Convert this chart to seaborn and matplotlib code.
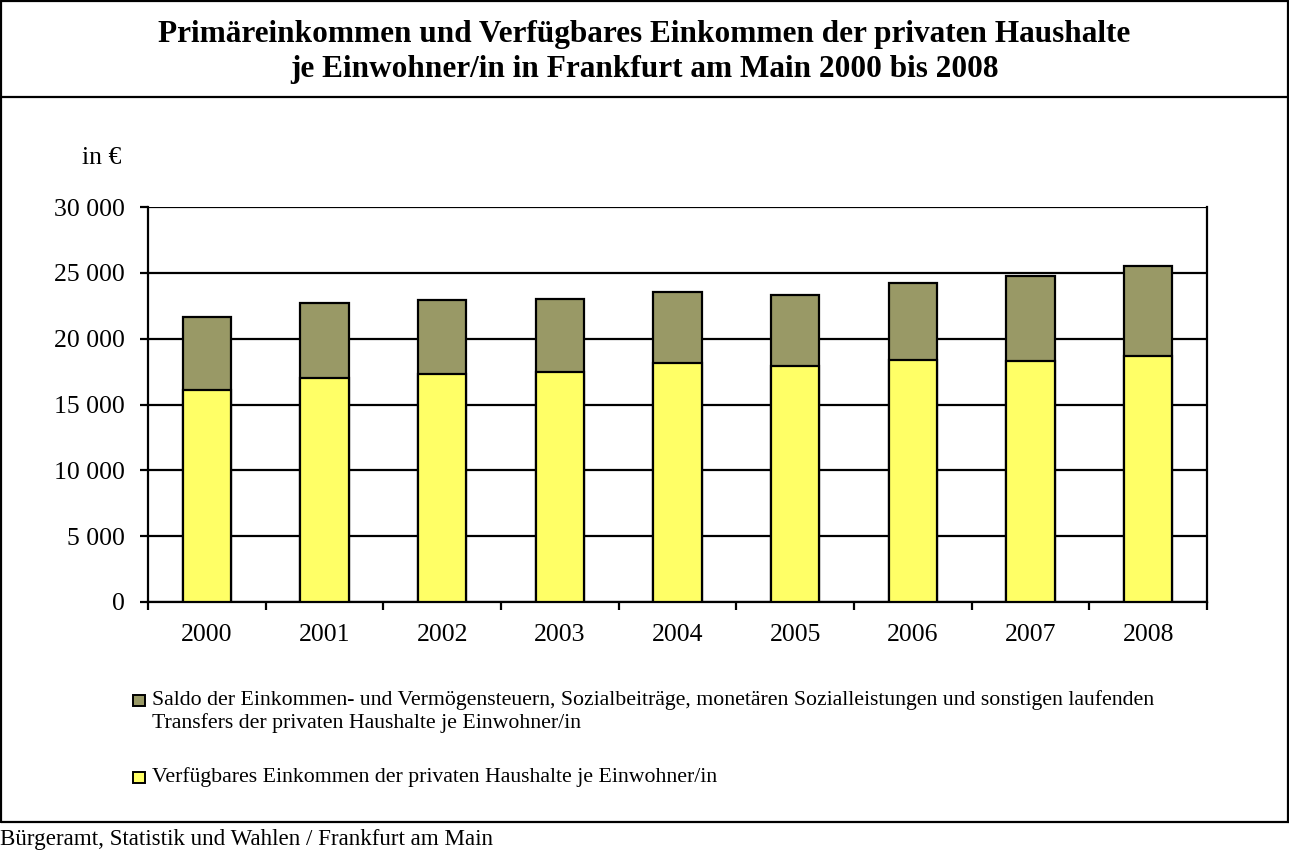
import numpy as np
import pandas as pd
import seaborn as sns
import matplotlib.pyplot as plt
from matplotlib.patches import Rectangle
from matplotlib.lines import Line2D
from matplotlib.ticker import FuncFormatter

# Data
years = ["2000", "2001", "2002", "2003", "2004", "2005", "2006", "2007", "2008"]
verfuegbar = [16130, 17010, 17290, 17470, 18180, 17950, 18350, 18290, 18660]
primaer = [21640, 22700, 22960, 23020, 23510, 23340, 24220, 24730, 25510]

label_saldo = ["Saldo der Einkommen- und Vermögensteuern, Sozialbeiträge, monetären Sozialleistungen und sonstigen laufenden",
               "Transfers der privaten Haushalte je Einwohner/in"]
label_verf = ["Verfügbares Einkommen der privaten Haushalte je Einwohner/in"]
title = ("Primäreinkommen und Verfügbares Einkommen der privaten Haushalte\n"
         "je Einwohner/in in Frankfurt am Main 2000 bis 2008")
source = "Bürgeramt, Statistik und Wahlen / Frankfurt am Main"

df = pd.DataFrame({"Jahr": years, "verfuegbar": verfuegbar, "primaer": primaer})

sns.set_style("white")
plt.rcParams["font.family"] = ["Liberation Serif", "DejaVu Serif"]
plt.rcParams["text.color"] = "black"
plt.rcParams["xtick.color"] = "black"
plt.rcParams["ytick.color"] = "black"

W, H = 1289, 852
fig = plt.figure(figsize=(W / 100, H / 100), dpi=100)

def fx(px):
    return px / W

def fy(py):
    return 1 - py / H

ax = fig.add_axes([fx(148), fy(602), fx(1207) - fx(148), fy(207) - fy(602)])

olive = "#999966"
yellow = "#ffff66"

# total bar (olive) then the yellow part over it
sns.barplot(data=df, x="Jahr", y="primaer", color=olive, width=0.41,
            edgecolor="black", linewidth=1.6, saturation=1, ax=ax, zorder=3)
sns.barplot(data=df, x="Jahr", y="verfuegbar", color=yellow, width=0.41,
            edgecolor="black", linewidth=1.6, saturation=1, ax=ax, zorder=4)

ax.set_ylim(0, 30000)
ax.set_xlim(-0.5, len(years) - 0.5)
ax.set_yticks(np.arange(0, 30001, 5000))
ax.yaxis.set_major_formatter(FuncFormatter(lambda v, p: f"{int(v):,}".replace(",", " ")))
ax.yaxis.grid(True, color="black", linewidth=1.6, zorder=0)
ax.set_axisbelow(True)
ax.set_xlabel("")
ax.set_ylabel("")

for s in ["left", "bottom", "right"]:
    ax.spines[s].set_visible(True)
    ax.spines[s].set_color("black")
    ax.spines[s].set_linewidth(1.6)
ax.spines["top"].set_visible(False)

ax.tick_params(axis="y", which="major", direction="out", length=6, width=1.6,
               left=True, labelsize=18.5, pad=11)
ax.tick_params(axis="x", which="major", length=0, labelsize=18.5, pad=16)
ax.set_xticks(np.arange(-0.5, len(years)), minor=True)
ax.tick_params(axis="x", which="minor", direction="out", length=6, width=1.6, bottom=True)

fig.text(fx(82), fy(158), "in €", fontsize=18.5, va="center", ha="left")

# Title
fig.text(0.5, fy(52), title, fontsize=22.5, fontweight="bold", ha="center", va="center",
         linespacing=1.3)

# Frame lines
lw = 1.6
for (x0, y0, x1, y1) in [(1, 1, 1288, 1), (1, 1, 1, 822), (1288, 1, 1288, 822),
                         (1, 97, 1288, 97), (1, 822, 1289, 822)]:
    fig.add_artist(Line2D([fx(x0), fx(x1)], [fy(y0), fy(y1)], color="black", linewidth=lw))

# Legend
leg_items = [(olive, label_saldo, 700), (yellow, label_verf, 777)]
for col, lines, py in leg_items:
    fig.add_artist(Rectangle((fx(133), fy(py + 6)), fx(12), fy(py - 5) - fy(py + 6),
                             facecolor=col, edgecolor="black", linewidth=1.4))
    for i, line in enumerate(lines):
        fig.text(fx(152), fy(py + 23 * i), line, fontsize=15.7, ha="left", va="center")

fig.text(fx(0), fy(839), source, fontsize=16.6, ha="left", va="center")

fig.savefig("out.png", dpi=100)
